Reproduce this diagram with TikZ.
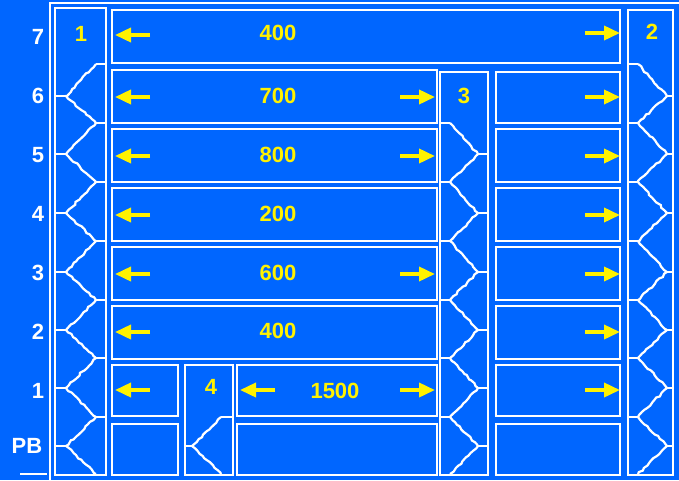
\documentclass[tikz,border=0pt]{standalone}
\usepackage{fontspec}
\setmainfont{Liberation Sans}
\usetikzlibrary{arrows.meta,decorations.pathmorphing}
\definecolor{bgblue}{RGB}{0,102,255}
\tikzset{
    wallbox/.style={
        draw=white,
        line width=2.8pt
    },
    % stair flights, drawn slightly jagged
    stairline/.style={
        white,
        line width=2.2pt,
        decorate,
        decoration={random steps, segment length=3.5pt, amplitude=0.9pt}
    },
    stubline/.style={
        white,
        line width=2.2pt
    },
    yellowarrow/.style={
        yellow,
        line width=3.6pt,
        -{Triangle[length=16pt, width=14pt]}
    },
    floorlabel/.style={white, font=\fontsize{22}{22}\selectfont\bfseries},
    roomlabel/.style={yellow, font=\fontsize{22}{22}\selectfont\bfseries}
}

\begin{document}
\begin{tikzpicture}[x=1pt,y=-1pt]
	\useasboundingbox (0,0) rectangle (679,480);
	\fill[bgblue] (0,0) rectangle (679,480);
	
	% outer frame
	\draw[white,line width=2.8pt] (50,480) -- (50,3) -- (679,3);
	\draw[white,line width=2.8pt] (20,474) -- (47,474);
	
	% stair columns
	\draw[wallbox] (55,8) rectangle (106,475);
	\draw[wallbox] (628,10) rectangle (673,475);
	\draw[wallbox] (440,72) rectangle (488,475);
	\draw[wallbox] (185,365) rectangle (233,475);
	
	% rooms
	\draw[wallbox] (112,10) rectangle (620,63);
	\foreach \t/\b in {70/123,129/182,188/241,247/300,306/359}{
		\draw[wallbox] (112,\t) rectangle (437,\b);
	}
	\foreach \t/\b in {72/123,129/182,188/241,247/300,306/359,365/416,424/475}{
		\draw[wallbox] (496,\t) rectangle (620,\b);
	}
	\draw[wallbox] (112,365) rectangle (178,416);
	\draw[wallbox] (237,365) rectangle (437,416);
	\draw[wallbox] (112,424) rectangle (178,475);
	\draw[wallbox] (237,424) rectangle (437,475);
	
	% stairs 1 and 2
	\foreach \a/\v/\b in {64/96/123,123/154/182,182/213/241,241/272/300,300/330/358,358/388/417,417/446/474}{
		\draw[stairline] (96,\a) -- (66,\v) -- (96,\b);
		\draw[stubline] (96,\a) -- (106,\a);
		\draw[stubline] (66,\v) -- (55,\v);
		\draw[stairline] (638,\a) -- (667,\v) -- (638,\b);
		\draw[stubline] (638,\a) -- (628,\a);
		\draw[stubline] (667,\v) -- (673,\v);
	}
	\draw[stubline] (96,417) -- (106,417);
	\draw[stubline] (638,417) -- (628,417);
	
	% stair 3
	\foreach \a/\v/\b in {123/154/182,182/213/241,241/272/300,300/330/358,358/388/417,417/446/474}{
		\draw[stairline] (450,\a) -- (478,\v) -- (450,\b);
		\draw[stubline] (450,\a) -- (440,\a);
		\draw[stubline] (478,\v) -- (488,\v);
	}
	\draw[stubline] (450,417) -- (440,417);
	
	% stair 4
	\draw[stairline] (221,417) -- (192,446) -- (221,474);
	\draw[stubline] (221,417) -- (233,417);
	\draw[stubline] (192,446) -- (185,446);
	
	% arrows
	\foreach \y in {35,97,156,215,274,332,390}{
		\draw[yellowarrow] (150,\y) -- (115,\y);
	}
	\foreach \y in {33,97,156,215,274,332,390}{
		\draw[yellowarrow] (585,\y) -- (620,\y);
	}
	\foreach \y in {97,156,274,390}{
		\draw[yellowarrow] (400,\y) -- (435,\y);
	}
	\draw[yellowarrow] (275,390) -- (240,390);
	
	% floor labels
	\node[floorlabel] (f7) at (38,37) {7};
	\node[floorlabel] (f6) at (38,96) {6};
	\node[floorlabel] (f5) at (38,155) {5};
	\node[floorlabel] (f4) at (38,214) {4};
	\node[floorlabel] (f3) at (38,273) {3};
	\node[floorlabel] (f2) at (38,332) {2};
	\node[floorlabel] (f1) at (38,391) {1};
	\node[floorlabel] (fpb) at (27,446) {PB};
	
	% room sizes and stair numbers
	\node[roomlabel] (r7) at (278,33) {400};
	\node[roomlabel] (r6) at (278,96) {700};
	\node[roomlabel] (r5) at (278,155) {800};
	\node[roomlabel] (r4) at (278,214) {200};
	\node[roomlabel] (r3) at (278,273) {600};
	\node[roomlabel] (r2) at (278,331) {400};
	\node[roomlabel] (r1) at (335,391) {1500};
	\node[roomlabel] (s1) at (81,34) {1};
	\node[roomlabel] (s2) at (652,32) {2};
	\node[roomlabel] (s3) at (464,96) {3};
	\node[roomlabel] (s4) at (211,387) {4};
\end{tikzpicture}
\end{document}
